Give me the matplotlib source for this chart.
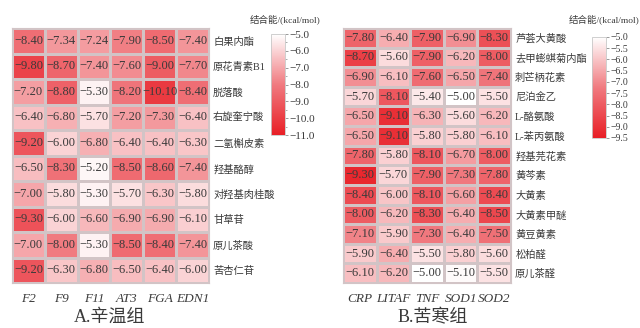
import numpy as np
import matplotlib
matplotlib.use("Agg")
import matplotlib.pyplot as plt
from matplotlib.colors import LinearSegmentedColormap
from matplotlib.ticker import MultipleLocator

plt.rcParams['font.family'] = ['Liberation Serif', 'Noto Sans CJK SC', 'DejaVu Sans']
plt.rcParams['axes.unicode_minus'] = True

# ---- data: panel A ----
rows_a = ["白果内酯", "原花青素B1", "脱落酸", "右旋奎宁酸", "二氢槲皮素",
          "羟基酪醇", "对羟基肉桂酸", "甘草苷", "原儿茶酸", "苦杏仁苷"]
cols_a = ["F2", "F9", "F11", "AT3", "FGA", "EDN1"]
vals_a = [
    [-8.40, -7.34, -7.24, -7.90, -8.50, -7.40],
    [-9.80, -8.70, -7.40, -7.60, -9.00, -7.70],
    [-7.20, -8.80, -5.30, -8.20, -10.10, -8.40],
    [-6.40, -6.80, -5.70, -7.20, -7.30, -6.40],
    [-9.20, -6.00, -6.80, -6.40, -6.40, -6.30],
    [-6.50, -8.30, -5.20, -8.50, -8.60, -7.40],
    [-7.00, -5.80, -5.30, -5.70, -6.30, -5.80],
    [-9.30, -6.00, -6.60, -6.90, -6.90, -6.10],
    [-7.00, -8.00, -5.30, -8.50, -8.40, -7.40],
    [-9.20, -6.30, -6.80, -6.50, -6.40, -6.00],
]
cbar_ticks_a = [-5.0, -6.0, -7.0, -8.0, -9.0, -10.0, -11.0]

# ---- data: panel B ----
rows_b = ["芦荟大黄酸", "去甲蟛蜞菊内酯", "刺芒柄花素", "尼泊金乙", "L-酪氨酸",
          "L-苯丙氨酸", "羟基芫花素", "黄芩素", "大黄素", "大黄素甲醚",
          "黄豆黄素", "松柏醛", "原儿茶醛"]
cols_b = ["CRP", "LITAF", "TNF", "SOD1", "SOD2"]
vals_b = [
    [-7.80, -6.40, -7.90, -6.90, -8.30],
    [-8.70, -5.60, -7.90, -6.20, -8.00],
    [-6.90, -6.10, -7.60, -6.50, -7.40],
    [-5.70, -8.10, -5.40, -5.00, -5.50],
    [-6.50, -9.10, -6.30, -5.60, -6.20],
    [-6.50, -9.10, -5.80, -5.80, -6.10],
    [-7.80, -5.80, -8.10, -6.70, -8.00],
    [-9.30, -5.70, -7.90, -7.30, -7.80],
    [-8.40, -6.00, -8.10, -6.60, -8.40],
    [-8.00, -6.20, -8.30, -6.40, -8.50],
    [-7.10, -5.90, -7.30, -6.40, -7.50],
    [-5.90, -6.40, -5.50, -5.80, -5.60],
    [-6.10, -6.20, -5.00, -5.10, -5.50],
]
cbar_ticks_b = [-5.0, -5.5, -6.0, -6.5, -7.0, -7.5, -8.0, -8.5, -9.0, -9.5]

cmap = LinearSegmentedColormap.from_list(
    "wr", [(0.0, "#e81f26"), (0.5, "#f07a80"), (1.0, "#ffffff")])

W, H = 640, 328
fig = plt.figure(figsize=(W / 100, H / 100), dpi=100)

def fx(px):
    return px / W

def fy(py):
    return 1 - py / H

text_col = "#3a3a3a"
edge_col = "#d2c4c6"

def panel(rows, cols, vals, vmin, ticks, hm_box, cb_box, cb_label_x, caption, cap_x,
          tick_fs, row_fs):
    x0, y0, x1, y1 = hm_box
    ax = fig.add_axes([fx(x0), fy(y1), fx(x1 - x0), (y1 - y0) / H])
    arr = np.array(vals)
    m = ax.pcolormesh(arr, cmap=cmap, vmin=vmin, vmax=-5.0,
                      edgecolors=edge_col, linewidth=0.8)
    ax.set_xlim(0, arr.shape[1])
    ax.set_ylim(arr.shape[0], 0)
    for i in range(arr.shape[0]):
        for j in range(arr.shape[1]):
            ax.text(j + 0.5, i + 0.5, f"{arr[i, j]:.2f}".replace("-", "\u2212"),
                    ha="center", va="center", fontsize=9, color=text_col,
                    family=['Liberation Serif'])
    ax.set_xticks(np.arange(arr.shape[1]) + 0.5)
    ax.set_xticklabels(cols, fontstyle="italic", fontsize=9.5, color=text_col)
    ax.set_yticks(np.arange(arr.shape[0]) + 0.5)
    ax.set_yticklabels(rows, fontsize=row_fs, color=text_col)
    ax.yaxis.tick_right()
    ax.tick_params(length=0, pad=3)
    ax.tick_params(axis="x", pad=7)
    for s in ax.spines.values():
        s.set_color(edge_col)
        s.set_linewidth(0.8)

    cx0, cy0, cx1, cy1 = cb_box
    cax = fig.add_axes([fx(cx0), fy(cy1), fx(cx1 - cx0), (cy1 - cy0) / H])
    cb = fig.colorbar(m, cax=cax, ticks=ticks)
    cb.outline.set_edgecolor("#c8c8c8")
    cb.outline.set_linewidth(0.6)
    cb.ax.set_yticklabels([f"{t:.1f}".replace("-", "\u2212") for t in ticks],
                          fontsize=tick_fs, color=text_col)
    cb.ax.tick_params(length=2.5, width=0.6, color="#888888", pad=1)
    if len(ticks) < 8:
        cb.ax.yaxis.set_minor_locator(MultipleLocator(0.5))
        cb.ax.tick_params(which="minor", length=1.5, width=0.5, color="#888888")
    fig.text(fx(cb_label_x), fy(19), "结合能/(kcal/mol)", ha="right", va="center",
             fontsize=6.8, color=text_col)
    fig.text(fx(cap_x), fy(326), caption, ha="center", va="bottom",
             fontsize=13, color=text_col)

panel(rows_a, cols_a, vals_a, -11.0, cbar_ticks_a,
      (12, 28, 209, 283), (271, 34, 285, 135), 320, "A.辛温组", 110, 8, 7.4)
panel(rows_b, cols_b, vals_b, -9.5, cbar_ticks_b,
      (343, 28, 511, 283), (592, 37, 606, 138), 639, "B.苦寒组", 433, 7, 7.4)

fig.savefig("out.png", dpi=100, facecolor="white")
